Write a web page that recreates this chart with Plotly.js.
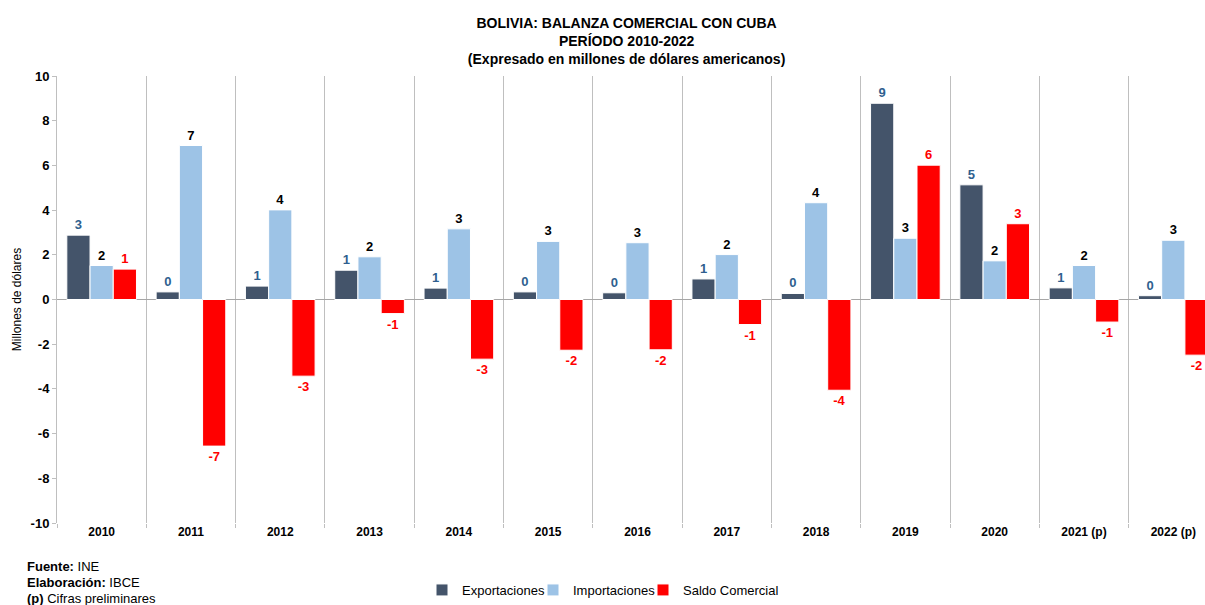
<!DOCTYPE html>
<html>
<head>
<meta charset="utf-8">
<script src="https://cdn.plot.ly/plotly-3.0.1.min.js"></script>
<style>html,body{margin:0;padding:0;background:#fff;}#chart{width:1205px;height:605px;}</style>
</head>
<body>
<div id="chart"></div>
<script>
const years = ["2010","2011","2012","2013","2014","2015","2016","2017","2018","2019","2020","2021 (p)","2022 (p)"];
const exportaciones = [2.88,0.34,0.60,1.31,0.51,0.34,0.30,0.92,0.27,8.78,5.13,0.52,0.17];
const importaciones = [1.52,6.89,4.01,1.91,3.16,2.60,2.54,2.01,4.33,2.74,1.73,1.52,2.65];
const saldo = [1.36,-6.56,-3.43,-0.63,-2.67,-2.27,-2.25,-1.12,-4.06,6.01,3.39,-1.01,-2.49];
const yTickVals = [-10,-8,-6,-4,-2,0,2,4,6,8,10];
const yTickText = ["-10","-8","-6","-4","-2","0","2","4","6","8","10"];

const FONT = "Liberation Sans, Arial, sans-serif";
function series(name, y, color, labelColor, legendId) {
  return {
    type: "bar", name: name, x: years, y: y, legend: legendId,
    marker: {color: color, line: {color: "#ffffff", width: 1}},
    text: y.map(v => String(Math.round(v))), texttemplate: "%{text}",
    textposition: "outside", cliponaxis: false,
    textfont: {family: FONT, size: 13, color: labelColor, weight: "bold"},
    hoverinfo: "x+y+name"
  };
}
const data = [
  series("Exportaciones", exportaciones, "#44546A", "#2F5F8F", "legend"),
  series("Importaciones", importaciones, "#9DC3E6", "#000000", "legend2"),
  series("Saldo Comercial", saldo, "#FF0000", "#FF0000", "legend3")
];
function leg(px) {
  return {orientation: "h", x: (px - 57) / 1148, xanchor: "left", y: -0.15, yanchor: "middle",
          font: {family: FONT, size: 13, color: "#000"}, itemwidth: 30, bgcolor: "rgba(0,0,0,0)"};
}
const layout = {
  width: 1205, height: 605,
  margin: {l: 57, r: 0, t: 76, b: 82},
  paper_bgcolor: "#ffffff", plot_bgcolor: "#ffffff",
  font: {family: FONT, color: "#000"},
  barmode: "group", bargap: 0.22, bargroupgap: 0,
  title: {
    text: "<b>BOLIVIA: BALANZA COMERCIAL CON CUBA<br>PERÍODO 2010-2022<br>(Expresado en millones de dólares americanos)</b>",
    font: {family: FONT, size: 14, color: "#000"},
    x: 0.52, xanchor: "center", y: 0.954, yanchor: "middle"
  },
  xaxis: {
    type: "category", range: [-0.5, 12.355],
    tickson: "boundaries", showgrid: true, gridcolor: "#BFBFBF", gridwidth: 1,
    ticks: "outside", ticklen: 4, tickcolor: "#BFBFBF",
    showline: false, zeroline: false,
    tickfont: {family: FONT, size: 12, color: "#000", weight: "bold"},
    fixedrange: true
  },
  yaxis: {
    range: [-10, 10], tickmode: "array", tickvals: yTickVals, ticktext: yTickText,
    showgrid: false, zeroline: true, zerolinecolor: "#A6A6A6", zerolinewidth: 1,
    showline: true, linecolor: "#BFBFBF", linewidth: 1,
    ticks: "outside", ticklen: 4, tickcolor: "#BFBFBF",
    tickfont: {family: FONT, size: 13, color: "#000", weight: "bold"},
    title: {text: "Millones de dólares", font: {family: FONT, size: 12, color: "#000"}, standoff: 6},
    fixedrange: true
  },
  showlegend: true,
  legend: leg(422),
  legend2: leg(533),
  legend3: leg(643),
  annotations: [
    {xref: "paper", yref: "paper", x: -0.028, y: -0.098, xanchor: "left", yanchor: "middle", showarrow: false,
     text: "<b>Fuente:</b> INE", font: {family: FONT, size: 13, color: "#000"}},
    {xref: "paper", yref: "paper", x: -0.028, y: -0.134, xanchor: "left", yanchor: "middle", showarrow: false,
     text: "<b>Elaboración:</b> IBCE", font: {family: FONT, size: 13, color: "#000"}},
    {xref: "paper", yref: "paper", x: -0.028, y: -0.170, xanchor: "left", yanchor: "middle", showarrow: false,
     text: "<b>(p)</b> Cifras preliminares", font: {family: FONT, size: 13, color: "#000"}}
  ]
};
Plotly.newPlot("chart", data, layout, {displayModeBar: false, staticPlot: true});
</script>
</body>
</html>
